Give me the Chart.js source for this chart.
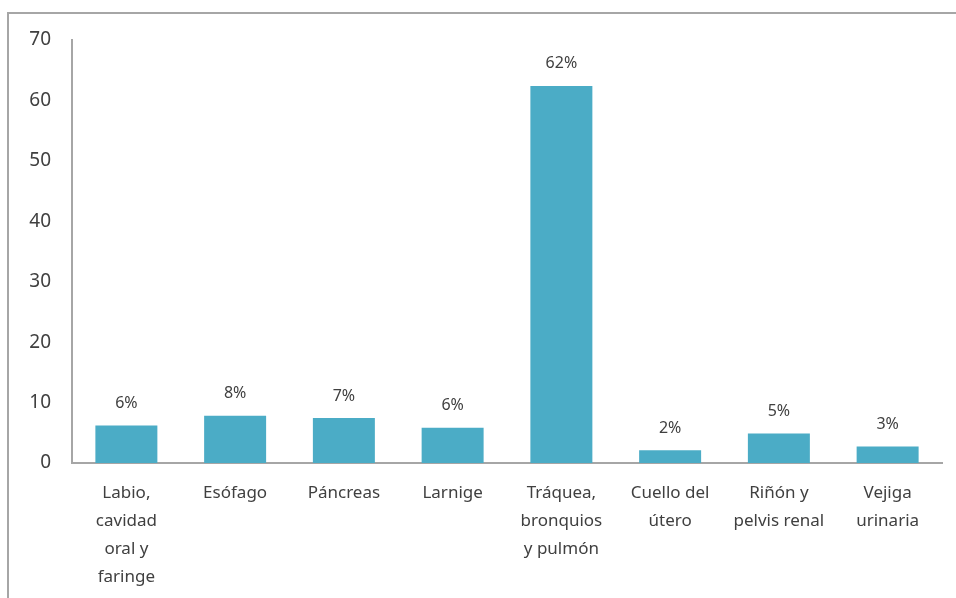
<!DOCTYPE html>
<html>
<head>
<meta charset="utf-8">
<script src="https://cdn.jsdelivr.net/npm/chart.js@4"></script>
<style>
  body { margin: 0; background: #fff; overflow: hidden; }
  #frame { position: absolute; left: 7px; top: 12px; width: 1000px; height: 1000px; border: 2px solid #a6a6a6; }
  #wrap { position: absolute; left: 0; top: 0; width: 956px; height: 598px; }
</style>
</head>
<body>
<div id="frame"></div>
<div id="wrap"><canvas id="my-chart" width="956" height="598"></canvas></div>
<script>
const categorias = [
  ['Labio,', 'cavidad', 'oral y', 'faringe'],
  ['Esófago'],
  ['Páncreas'],
  ['Larnige'],
  ['Tráquea,', 'bronquios', 'y pulmón'],
  ['Cuello del', 'útero'],
  ['Riñón y', 'pelvis renal'],
  ['Vejiga', 'urinaria']
];
const porcentajes = [6.2, 7.8, 7.45, 5.85, 62.4, 2.1, 4.9, 2.75];
const yTicks = [0, 10, 20, 30, 40, 50, 60, 70];

const textColor = '#404040';
const axisColor = '#a6a6a6';

// etiquetas de porcentaje encima de cada barra
const valueLabels = {
  id: 'valueLabels',
  afterDatasetsDraw(chart) {
    const ctx = chart.ctx;
    const meta = chart.getDatasetMeta(0);
    ctx.save();
    ctx.font = '16px "Noto Sans"';
    ctx.fillStyle = textColor;
    ctx.textAlign = 'center';
    ctx.textBaseline = 'middle';
    meta.data.forEach((bar, i) => {
      ctx.fillText(Math.round(porcentajes[i]) + '%', bar.x, bar.y - 22);
    });
    ctx.restore();
  }
};

const ctx = document.getElementById('my-chart').getContext('2d');
const chart = new Chart(ctx, {
  type: 'bar',
  data: {
    labels: categorias,
    datasets: [
      {
        data: porcentajes,
        backgroundColor: '#4bacc6',
        barPercentage: 0.57,
        categoryPercentage: 1
      }
    ]
  },
  options: {
    responsive: false,
    animation: false,
    layout: { padding: { top: 40, right: 14, left: 0, bottom: 0 } },
    plugins: { legend: { display: false }, tooltip: { enabled: false } },
    scales: {
      x: {
        grid: { display: false, drawTicks: false },
        border: { color: axisColor, width: 2 },
        ticks: {
          color: textColor,
          font: { family: 'Noto Sans', size: 17, lineHeight: 1.65 },
          padding: 16,
          maxRotation: 0,
          autoSkip: false
        },
        afterFit(scale) { scale.height = 135; }
      },
      y: {
        min: 0,
        max: 70,
        afterBuildTicks(scale) { scale.ticks = yTicks.map(v => ({ value: v })); },
        grid: { display: false, drawTicks: false },
        border: { color: axisColor, width: 2 },
        ticks: {
          color: textColor,
          font: { family: 'Noto Sans', size: 19 },
          padding: 21
        },
        afterFit(scale) { scale.width = 72; }
      }
    }
  },
  plugins: [valueLabels]
});
</script>
</body>
</html>
